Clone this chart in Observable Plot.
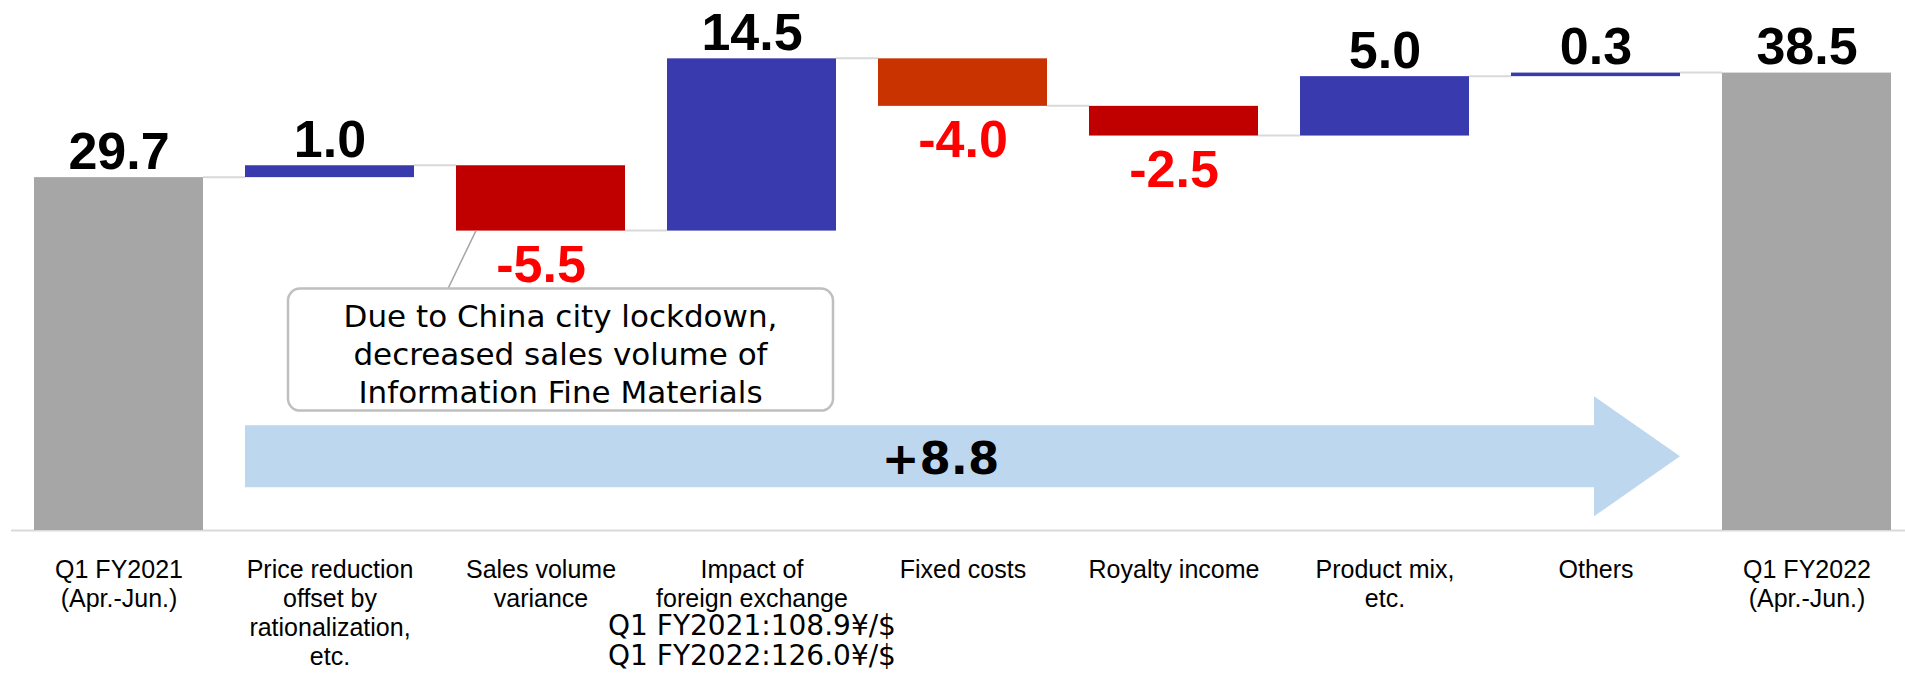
<!DOCTYPE html>
<html>
<head>
<meta charset="utf-8">
<script src="https://cdn.jsdelivr.net/npm/d3@7"></script>
<script src="https://cdn.jsdelivr.net/npm/@observablehq/plot@0.6"></script>
<style>
  html, body { margin: 0; padding: 0; background: #fff; }
  #chart svg { display: block; }
</style>
</head>
<body>
<div id="chart"></div>
<script>
// ---------- data ----------
const categories = [
  "Q1 FY2021\n(Apr.-Jun.)",
  "Price reduction\noffset by\nrationalization,\netc.",
  "Sales volume\nvariance",
  "Impact of\nforeign exchange",
  "Fixed costs",
  "Royalty income",
  "Product mix,\netc.",
  "Others",
  "Q1 FY2022\n(Apr.-Jun.)"
];
const values = [29.7, 1.0, -5.5, 14.5, -4.0, -2.5, 5.0, 0.3, 38.5];
const isTotal = [true, false, false, false, false, false, false, false, true];
const fxLines = ["Q1 FY2021:108.9¥/$", "Q1 FY2022:126.0¥/$"];
const fxCategory = categories[3];
const calloutLines = ["Due to China city lockdown,", "decreased sales volume of", "Information Fine Materials"];
const calloutCategory = categories[2];
const arrowLevel = 6.2; // vertical position of the change arrow, in data units

// ---------- styles ----------
const barColors = ["#A6A6A6", "#3A3AAF", "#C00000", "#3A3AAF", "#C83300", "#C00000", "#3A3AAF", "#3A3AAF", "#A6A6A6"];

// ---------- derived table ----------
let run = 0;
const rows = categories.map((c, i) => {
  const start = isTotal[i] ? 0 : run;
  const end = isTotal[i] ? values[i] : run + values[i];
  run = end;
  return {category: c, value: values[i], start, end, i};
});
const fxRows = [{category: fxCategory, text: fxLines.join("\n")}];
const totalChange = values[values.length - 1] - values[0];

function bw(x) {
  return typeof x.bandwidth === "function" ? x.bandwidth() : x.bandwidth;
}

// connectors between consecutive bars at running total level
function connectors(index, scales) {
  const {x, y} = scales;
  const w = bw(x);
  const g = d3.create("svg:g").attr("stroke", "#D9D9D9").attr("stroke-width", 2);
  for (let i = 0; i < rows.length - 1; i++) {
    const yy = y(rows[i].end);
    g.append("line")
      .attr("x1", x(rows[i].category) + w)
      .attr("x2", x(rows[i + 1].category))
      .attr("y1", yy).attr("y2", yy);
  }
  return g.node();
}

// change arrow + callout
function annotations(index, scales) {
  const {x, y} = scales;
  const w = bw(x);
  const g = d3.create("svg:g");

  // arrow from 2nd bar's left edge to 8th bar's right edge
  const ax0 = x(categories[1]);
  const ax1 = x(categories[7]) + w;
  const ay = y(arrowLevel);
  const bodyHalf = 31, headHalf = 60, headLen = 86;
  const hx = ax1 - headLen;
  g.append("path")
    .attr("fill", "#BDD7EE")
    .attr("d", `M${ax0},${ay - bodyHalf}L${hx},${ay - bodyHalf}L${hx},${ay - headHalf}L${ax1},${ay}L${hx},${ay + headHalf}L${hx},${ay + bodyHalf}L${ax0},${ay + bodyHalf}Z`);
  g.append("text")
    .attr("x", (ax0 + hx) / 2 + 21)
    .attr("y", ay + 18)
    .attr("text-anchor", "middle")
    .attr("font-family", "DejaVu Sans")
    .attr("font-weight", "bold")
    .attr("font-size", 45)
    .attr("fill", "#000")
    .text((totalChange >= 0 ? "+" : "") + totalChange.toFixed(1));

  // callout
  const r = rows.find(d => d.category === calloutCategory);
  const barLeft = x(r.category);
  const barBottom = y(Math.min(r.start, r.end));
  const bx0 = x(categories[1]) + 43;
  const bx1 = x(categories[3]) + w - 3;
  const by0 = barBottom + 58;
  const bh = 122;
  g.append("line")
    .attr("x1", barLeft + 20).attr("y1", barBottom)
    .attr("x2", barLeft - 8).attr("y2", by0)
    .attr("stroke", "#A6A6A6").attr("stroke-width", 1.5);
  g.append("rect")
    .attr("x", bx0).attr("y", by0)
    .attr("width", bx1 - bx0).attr("height", bh)
    .attr("rx", 12).attr("ry", 12)
    .attr("fill", "#fff").attr("stroke", "#BFBFBF").attr("stroke-width", 2.5);
  const t = g.append("text")
    .attr("text-anchor", "middle")
    .attr("font-family", "DejaVu Sans")
    .attr("font-size", 31)
    .attr("fill", "#000");
  calloutLines.forEach((line, k) => {
    t.append("tspan").attr("x", (bx0 + bx1) / 2).attr("y", by0 + 38 + k * 38).text(line);
  });
  return g.node();
}

const plot = Plot.plot({
  width: 1905,
  height: 673,
  marginTop: 31,
  marginBottom: 143,
  marginLeft: 11,
  marginRight: 0,
  style: {background: "#fff", overflow: "visible"},
  x: {domain: categories, paddingInner: 0.2, paddingOuter: 0.083, align: 0.63, axis: null},
  y: {domain: [0, 42], axis: null},
  color: {domain: categories, range: barColors},
  marks: [
    Plot.ruleY([0], {stroke: "#D9D9D9", strokeWidth: 2}),
    connectors,
    Plot.barY(rows, {x: "category", y1: "start", y2: "end", fill: "category"}),
    Plot.text(rows.filter(d => d.value >= 0), {
      x: "category", y: d => Math.max(d.start, d.end),
      text: d => d.value.toFixed(1),
      lineAnchor: "bottom", dy: -9,
      fontSize: 52, fontWeight: "bold", fontFamily: "Liberation Sans", fill: "#000"
    }),
    Plot.text(rows.filter(d => d.value < 0), {
      x: "category", y: d => Math.min(d.start, d.end),
      text: d => d.value.toFixed(1),
      lineAnchor: "top", dy: 14,
      fontSize: 52, fontWeight: "bold", fontFamily: "Liberation Sans", fill: "#FF0000"
    }),
    Plot.text(rows, {
      x: "category", text: "category", frameAnchor: "bottom",
      lineAnchor: "top", dy: 27, lineHeight: 1.16,
      fontSize: 25, fontFamily: "Liberation Sans", fill: "#000"
    }),
    Plot.text(fxRows, {
      x: "category", text: "text", frameAnchor: "bottom",
      lineAnchor: "top", dy: 83, lineHeight: 1.07,
      fontSize: 28, fontFamily: "DejaVu Sans", fill: "#000"
    }),
    annotations
  ]
});
document.getElementById("chart").append(plot);
</script>
</body>
</html>
